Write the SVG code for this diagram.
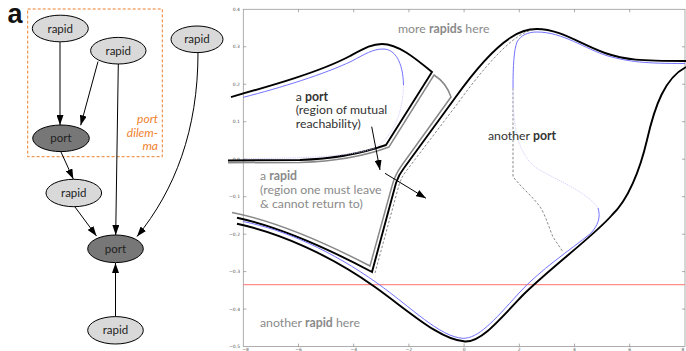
<svg xmlns="http://www.w3.org/2000/svg" width="686" height="351" viewBox="0 0 686 351">
<defs>
<style>
.node ellipse{stroke:#000;stroke-width:1}
.rapid ellipse{fill:#d9d9d9}
.port ellipse{fill:#777}
.nt{font-family:Lato,"Open Sans","Noto Sans",sans-serif;font-size:11.5px;fill:#222;text-anchor:middle}
.edge{fill:none;stroke:#000;stroke-width:1;marker-end:url(#ah)}
.tk{stroke:#888;stroke-width:0.7}
.tl{font-family:"DejaVu Sans",sans-serif;font-size:4.5px;fill:#555}
.pt{font-family:Lato,"Open Sans","Noto Sans",sans-serif;font-size:12.3px}
.dark{fill:#333}
.grey{fill:#8a8a8a}
.blk{fill:none;stroke:#000;stroke-width:1.9}
.gry{fill:none;stroke:#888;stroke-width:1.5}
.blu{fill:none;stroke:#7373ff;stroke-width:1}
.fblu{fill:none;stroke:#c4c4ff;stroke-width:0.8;stroke-dasharray:1.2,1}
.dsh{fill:none;stroke:#555;stroke-width:0.7;stroke-dasharray:2.5,1.8}
</style>
<marker id="ah" viewBox="0 0 10 7" refX="10" refY="3.5" markerWidth="10" markerHeight="7" markerUnits="userSpaceOnUse" orient="auto">
<path d="M0,0 L10,3.5 L0,7 z" fill="#000"/>
</marker>
</defs>
<rect width="686" height="351" fill="#fff"/>

<!-- panel label -->
<text x="7.5" y="23" font-family="'Liberation Sans',Arial,sans-serif" font-weight="bold" font-size="27" fill="#111">a</text>

<!-- port dilemma box -->
<g id="dilemma">
<rect x="27.7" y="9" width="134.6" height="147.7" fill="none" stroke="#ee7f2d" stroke-width="1" stroke-dasharray="3,2"/>
<text font-family="Lato,'Open Sans','Noto Sans',sans-serif" font-style="italic" font-size="12" fill="#ee7f2d" text-anchor="end"><tspan x="158" y="123.3">port</tspan><tspan x="158" y="136.7">dilem-</tspan><tspan x="158" y="150.3">ma</tspan></text>
</g>

<!-- connectors -->
<g id="edges">
<path class="edge" d="M60,42 L60,125"/>
<path class="edge" d="M98,61.5 L80.7,125.3"/>
<path class="edge" d="M118.3,64 L115.7,235"/>
<path class="edge" d="M198,52.7 C198,130 175,190 137,236.5"/>
<path class="edge" d="M61,152 L73.3,179"/>
<path class="edge" d="M75,207 L96.5,236"/>
<path class="edge" d="M115.5,316.7 L115.5,263"/>
</g>

<!-- nodes -->
<g id="rapid1" class="node rapid"><ellipse cx="60.3" cy="28.5" rx="28" ry="13.3"/><text class="nt" x="60.3" y="32.5">rapid</text></g>
<g id="rapid2" class="node rapid"><ellipse cx="118.3" cy="50.7" rx="27.7" ry="13.3"/><text class="nt" x="118.3" y="54.7">rapid</text></g>
<g id="rapid3" class="node rapid"><ellipse cx="197" cy="39.3" rx="26" ry="13.3"/><text class="nt" x="197" y="43.3">rapid</text></g>
<g id="port1" class="node port"><ellipse cx="61" cy="138.3" rx="28.3" ry="13.3"/><text class="nt" x="61" y="142.3">port</text></g>
<g id="rapid4" class="node rapid"><ellipse cx="73.8" cy="193" rx="27.8" ry="13.7"/><text class="nt" x="73.8" y="197">rapid</text></g>
<g id="port2" class="node port"><ellipse cx="115.5" cy="248.8" rx="27.8" ry="13.8"/><text class="nt" x="115.5" y="252.8">port</text></g>
<g id="rapid5" class="node rapid"><ellipse cx="115.5" cy="330.3" rx="27.8" ry="13.7"/><text class="nt" x="115.5" y="334.3">rapid</text></g>

<!-- plot -->
<g id="plot">
<rect x="243.3" y="9.3" width="441.7" height="337.3" fill="none" stroke="#999" stroke-width="0.8"/>
<g class="tk">
<path d="M243.3,46.8h3M243.3,84.2h3M243.3,121.7h3M243.3,159.2h3M243.3,196.7h3M243.3,234.2h3M243.3,271.6h3M243.3,309.1h3"/>
<path d="M685,46.8h-3M685,84.2h-3M685,121.7h-3M685,159.2h-3M685,196.7h-3M685,234.2h-3M685,271.6h-3M685,309.1h-3"/>
<path d="M298.5,346.6v-3M353.7,346.6v-3M408.9,346.6v-3M464.1,346.6v-3M519.3,346.6v-3M574.5,346.6v-3M629.7,346.6v-3"/>
<path d="M298.5,9.3v3M353.7,9.3v3M408.9,9.3v3M464.1,9.3v3M519.3,9.3v3M574.5,9.3v3M629.7,9.3v3"/>
</g>
<g class="tl" text-anchor="end">
<text x="240" y="10.8">0.4</text>
<text x="240" y="48.3">0.3</text>
<text x="240" y="85.7">0.2</text>
<text x="240" y="123.2">0.1</text>
<text x="240" y="160.7">0.0</text>
<text x="240" y="198.2">−0.1</text>
<text x="240" y="235.7">−0.2</text>
<text x="240" y="273.1">−0.3</text>
<text x="240" y="310.6">−0.4</text>
<text x="240" y="348.1">−0.5</text>
</g>
<g class="tl" text-anchor="middle" font-size="4">
<text x="245.5" y="350.7">−8</text>
<text x="298.5" y="350.7">−6</text>
<text x="353.7" y="350.7">−4</text>
<text x="408.9" y="350.7">−2</text>
<text x="464.1" y="350.7">0</text>
<text x="519.3" y="350.7">2</text>
<text x="574.5" y="350.7">4</text>
<text x="629.7" y="350.7">6</text>
<text x="683" y="350.7">8</text>
</g>

<!-- red line -->
<path d="M243.3,284.7 H685" stroke="#ff7070" stroke-width="1" fill="none"/>

<!-- port region (upper left) -->
<path class="gry" d="M228,162.7 L300,162.5 C332,161.5 365,156 389,147 L434,75 C442,80 448,88 451,97 L402,165 C397,172 394,178 392,186 L370,266 C320,240 270,220 232,212.5"/>
<path class="blk" d="M231,97 C270,86 320,72 350,56 C365,48 372,44 382,44 C398,44 415,58 432,72 L386,145 C360,154 330,159 300,160 L228,160.5"/>
<path class="blu" d="M243.3,97.3 C280,88 325,74 352,61 C365,54 373,49 383,49 C395,49 403,62 403.5,85"/>
<path class="fblu" d="M403.5,85 C403,110 395,135 375,148 C350,157 300,158.5 243.3,158.5"/>

<!-- rapid region / big curve -->
<path class="blk" d="M237,217.7 C275,226 325,247 372,272 L396,183 C398,177 400,173 404,168 L455,98 C475,70 495,48 510,38 C520,31 528,29 537,29 C560,29 580,44 605,53 C625,60 640,61 686,61"/>
<path class="dsh" d="M375,273 L399,185 C401,179 403,175 407,170 L458,103 C476,78 495,55 512,41 C520,35 526,31 533,30"/>
<path class="blu" d="M685,63.5 C645,63.5 630,62 608,56 C585,49 563,32 537,32 C528,32 521,35 517,42 C514,50 513,65 513,88"/>
<path class="dsh" d="M513,88 L513,177 L522,187 C530,195 538,203 542,210 C547,220 550,230 553,237 L563,252"/>
<path class="fblu" d="M513,88 C513,120 515,150 535,167 C555,180 585,190 598,208"/>
<path class="blu" d="M243.3,221.5 C285,230 332,251 377,283 C412,308 440,337 463,338.3 C478,338.5 493,322 519,293 C540,270 570,250 590,234 C598,226 601,217 598,208"/>
<path class="blk" d="M237,223.8 C280,233 330,255 375,287 C410,312 440,340 465,341.5 C480,342 495,325 522,296 C550,268 595,235 612,215 C628,200 640,170 647,140 C655,105 665,78 686,67"/>

<!-- arrows -->
<path class="edge" d="M371.7,126.7 L380,170"/>
<path class="edge" d="M385,173.3 L426,198.3"/>

<!-- labels -->
<text class="pt grey" x="398" y="32.5">more <tspan font-weight="bold">rapids</tspan> here</text>
<text class="pt dark"><tspan x="295.7" y="100.7">a <tspan font-weight="bold">port</tspan></tspan><tspan x="295.7" y="114.4">(region of mutual</tspan><tspan x="295.7" y="128.1">reachability)</tspan></text>
<text class="pt grey"><tspan x="260" y="180">a <tspan font-weight="bold">rapid</tspan></tspan><tspan x="260" y="194">(region one must leave</tspan><tspan x="260" y="208">&amp; cannot return to)</tspan></text>
<text class="pt dark" x="488" y="140">another <tspan font-weight="bold">port</tspan></text>
<text class="pt grey" x="260" y="326.7">another <tspan font-weight="bold">rapid</tspan> here</text>
</g>
</svg>
